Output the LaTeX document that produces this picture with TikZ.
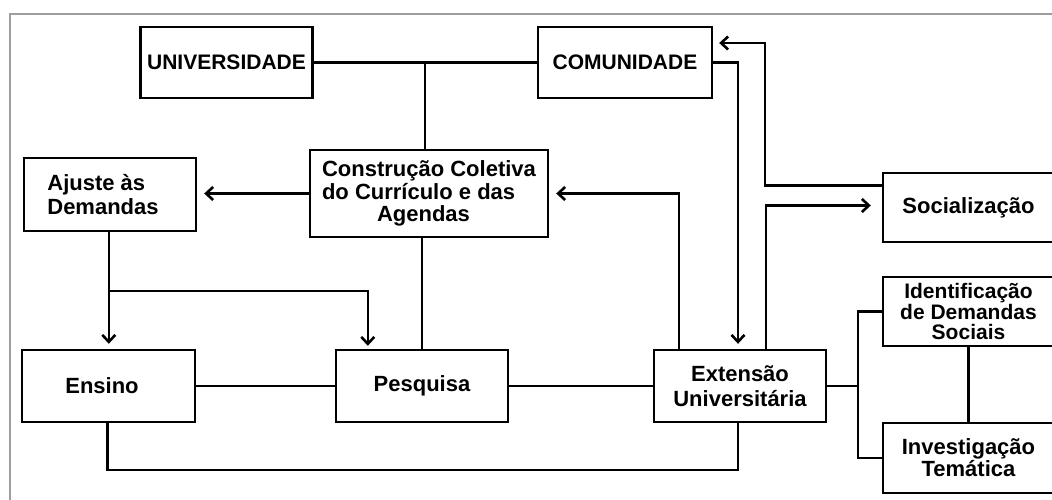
\documentclass[tikz,border=0pt]{standalone}
\usepackage{fontspec}
\setmainfont{Liberation Sans}
\usetikzlibrary{arrows.meta,positioning}

\tikzset{
  box/.style={draw=black, line width=2.4pt, rectangle, inner sep=0pt,
    font=\bfseries\fontsize{22}{23}\selectfont, align=center},
  conn/.style={draw=black, line width=2.4pt},
  arr/.style={conn, -{Straight Barb[length=7pt,width=13pt,line width=2.6pt]}},
}

\begin{document}
\begin{tikzpicture}[x=1pt, y=-1pt]
  \useasboundingbox (0,0) rectangle (1052,500);
  \fill[white] (0,0) rectangle (1052,500);

  % light grey frame (top and left edges)
  \draw[color=black!38, line width=1.6pt] (10,510) -- (10,14) -- (1060,14);

  % boxes
  \node[box, minimum width=172pt, minimum height=71pt,
        font=\bfseries\fontsize{21}{23}\selectfont] (uni) at (226.5,62.5) {UNIVERSIDADE};
  \node[box, minimum width=174pt, minimum height=71pt,
        font=\bfseries\fontsize{21}{23}\selectfont] (com) at (625,62.5) {COMUNIDADE};
  \node[box, minimum width=238pt, minimum height=87pt, align=left,
        font=\bfseries\fontsize{22}{22.5}\selectfont] (cc) at (429,193.5)
        {Construção Coletiva\\do Currículo e das\\\hspace*{55pt}Agendas};
  \node[box, minimum width=172pt, minimum height=73pt, align=left,
        font=\bfseries\fontsize{22}{23.5}\selectfont] (aj) at (110,194.5)
        {Ajuste às\\Demandas\hspace*{14pt}};
  \node[box, minimum width=171pt, minimum height=69pt] (soc) at (968.5,207.5) {Socialização};
  \node[box, minimum width=173pt, minimum height=72pt] (ens) at (108.5,386) {Ensino\hspace*{13pt}};
  \node[box, minimum width=172pt, minimum height=72pt] (pes) at (422,386) {\raisebox{3pt}{Pesquisa}};
  \node[box, minimum width=172pt, minimum height=72pt,
        font=\bfseries\fontsize{22}{25}\selectfont] (ext) at (740,386)
        {Extensão\\Universitária};
  \node[box, minimum width=171pt, minimum height=69pt,
        font=\bfseries\fontsize{21}{20.5}\selectfont] (idf) at (968.5,311.5)
        {Identificação\\de Demandas\\Sociais};
  \node[box, minimum width=171pt, minimum height=70pt,
        font=\bfseries\fontsize{22}{22}\selectfont] (inv) at (968.5,458)
        {Investigação\\Temática};

  % bend points
  \coordinate (j1) at (425,62.5);
  \coordinate (j2) at (108.8,291);
  \coordinate (j3) at (858,386);
  \coordinate (sbend) at (765,43);

  % connectors
  \draw[conn] (uni) -- (com);
  \draw[conn] (j1) -- (j1 |- cc.north);
  \draw[arr, shorten >=7pt] (cc.west) -- (aj.east |- cc.west);
  \draw[arr, shorten >=5pt] (aj.south -| j2) -- (j2 |- ens.north);
  \draw[arr, shorten >=3pt] (j2) -| ([xshift=33pt]pes.north west);
  \draw[conn] (pes.north |- cc.south) -- (pes.north);
  \draw[conn] (ens) -- (pes);
  \draw[conn] (pes) -- (ext);
  \draw[conn] ([xshift=-1pt]ens.south) |- ([xshift=-2pt]ext.south |- 0,470) -- ([xshift=-2pt]ext.south);
  \draw[arr, shorten >=7pt] ([xshift=26pt]ext.north west) |- (cc.east);
  \draw[arr, shorten >=5pt] (com.east) -| ([xshift=-2pt]ext.north);
  \draw[arr, shorten >=11pt] ([xshift=-61pt]ext.north east) |- ([yshift=2pt]soc.west);
  \draw[arr, shorten >=6pt] ([yshift=22pt]soc.west) -| (sbend) -- ([yshift=19.5pt]com.east);
  \draw[conn] (ext.east) -- (j3);
  \draw[conn] (idf.west) -| (j3) |- (inv.west);
  \draw[conn] (idf) -- (inv);
\end{tikzpicture}
\end{document}
